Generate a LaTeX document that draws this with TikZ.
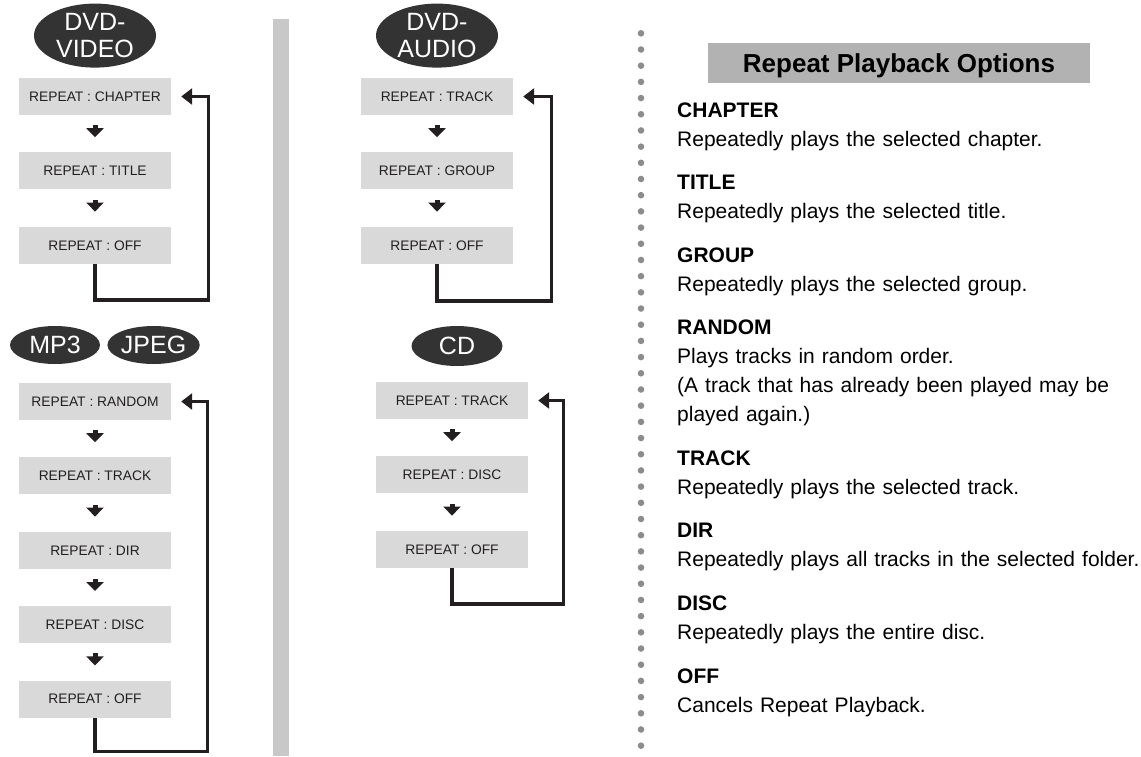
\documentclass[tikz,border=0pt]{standalone}
\usepackage{fontspec}
\setmainfont{Liberation Sans}
\usetikzlibrary{arrows.meta,positioning,shapes.geometric}
\definecolor{boxgray}{RGB}{217,217,218}
\definecolor{discgray}{RGB}{51,51,51}
\definecolor{inkblack}{RGB}{35,31,32}
\definecolor{bargray}{RGB}{200,200,200}
\definecolor{titlegray}{RGB}{178,178,178}
\definecolor{dotgray}{RGB}{140,140,140}

\begin{document}
\begin{tikzpicture}[x=1pt, y=-1pt,
  opt/.style={rectangle, fill=boxgray, text=inkblack, minimum width=152pt, minimum height=37pt,
              inner sep=0pt, font=\fontsize{13.8}{16}\selectfont},
  disc/.style={ellipse, fill=discgray, text=white, inner sep=0pt, align=center,
               font=\fontsize{25}{27}\selectfont},
  nxt/.style={-{Triangle[length=9pt,width=17pt]}, line width=5pt, inkblack,
              shorten <=10pt, shorten >=15pt},
  back/.style={-{Triangle[length=11pt,width=16pt]}, line width=3.2pt, inkblack, shorten >=10pt},
  ttl/.style={rectangle, fill=titlegray, minimum width=382pt, minimum height=40pt, inner sep=0pt,
              text depth=0pt, font=\bfseries\fontsize{26}{30}\selectfont},
  entry/.style={anchor=base west, text width=470pt, align=left, inner sep=0pt,
                font=\fontsize{21}{29.3}\selectfont}]
  \useasboundingbox (0,0) rectangle (1141,756);
  \fill[bargray] (273,19) rectangle (289,756);
  \foreach \i in {0,...,44}
    \fill[dotgray] (641,33.3+16.19*\i) circle (3.3pt);
  % DVD-VIDEO
  \node[opt] (v1) at (95,96.5) {REPEAT : CHAPTER};
  \node[opt, below=37pt of v1] (v2) {REPEAT : TITLE};
  \node[opt, below=37pt of v2] (v3) {REPEAT : OFF};
  \node[disc, minimum width=122pt, minimum height=64pt, above=10pt of v1] (dvdv) {DVD-\\VIDEO};
  \draw[nxt] (v1) -- (v2);
  \draw[nxt] (v2) -- (v3);
  \draw[back] (v3.south) -- ++(0,36) -| ([xshift=37pt]v1.east) -- (v1.east);
  % MP3 / JPEG
  \node[opt] (m1) at (95,401.5) {REPEAT : RANDOM};
  \node[opt, below=37pt of m1] (m2) {REPEAT : TRACK};
  \node[opt, below=37pt of m2] (m3) {REPEAT : DIR};
  \node[opt, below=37pt of m3] (m4) {REPEAT : DISC};
  \node[opt, below=37pt of m4] (m5) {REPEAT : OFF};
  \node[disc, minimum width=90pt, minimum height=38pt] (mp3) at (55,345) {MP3};
  \node[disc, minimum width=90pt, minimum height=38pt, right=7pt of mp3] (jpg) {JPEG};
  \draw[nxt] (m1) -- (m2);
  \draw[nxt] (m2) -- (m3);
  \draw[nxt] (m3) -- (m4);
  \draw[nxt] (m4) -- (m5);
  \draw[back] (m5.south) -- ++(0,34) -| ([xshift=36pt]m1.east) -- (m1.east);
  % DVD-AUDIO
  \node[opt] (a1) at (437,96.5) {REPEAT : TRACK};
  \node[opt, below=37pt of a1] (a2) {REPEAT : GROUP};
  \node[opt, below=37pt of a2] (a3) {REPEAT : OFF};
  \node[disc, minimum width=122pt, minimum height=64pt, above=10pt of a1] (dvda) {DVD-\\AUDIO};
  \draw[nxt] (a1) -- (a2);
  \draw[nxt] (a2) -- (a3);
  \draw[back] (a3.south) -- ++(0,37) -| ([xshift=38pt]a1.east) -- (a1.east);
  % CD
  \node[opt] (c1) at (452,400.5) {REPEAT : TRACK};
  \node[opt, below=37pt of c1] (c2) {REPEAT : DISC};
  \node[opt, below=37pt of c2] (c3) {REPEAT : OFF};
  \node[disc, minimum width=91pt, minimum height=40pt] (cd) at (457,346) {CD};
  \draw[nxt] (c1) -- (c2);
  \draw[nxt] (c2) -- (c3);
  \draw[back] (c3.south) -- ++(0,36) -| ([xshift=35pt]c1.east) -- (c1.east);
  % options list
  \node[ttl] (hdr) at (899,63) {Repeat Playback Options};
  \node[entry] (chap) at (677,117) {\textbf{CHAPTER}\\Repeatedly plays the selected chapter.};
  \node[entry] (titl) at (677,189) {\textbf{TITLE}\\Repeatedly plays the selected title.};
  \node[entry] (grp) at (677,262) {\textbf{GROUP}\\Repeatedly plays the selected group.};
  \node[entry] (rnd) at (677,334) {\textbf{RANDOM}\\Plays tracks in random order.\\(A track that has already been played may be\\played again.)};
  \node[entry] (trk) at (677,465) {\textbf{TRACK}\\Repeatedly plays the selected track.};
  \node[entry] (dir) at (677,537) {\textbf{DIR}\\Repeatedly plays all tracks in the selected folder.};
  \node[entry] (dsc) at (677,610) {\textbf{DISC}\\Repeatedly plays the entire disc.};
  \node[entry] (off) at (677,683) {\textbf{OFF}\\Cancels Repeat Playback.};
\end{tikzpicture}
\end{document}
